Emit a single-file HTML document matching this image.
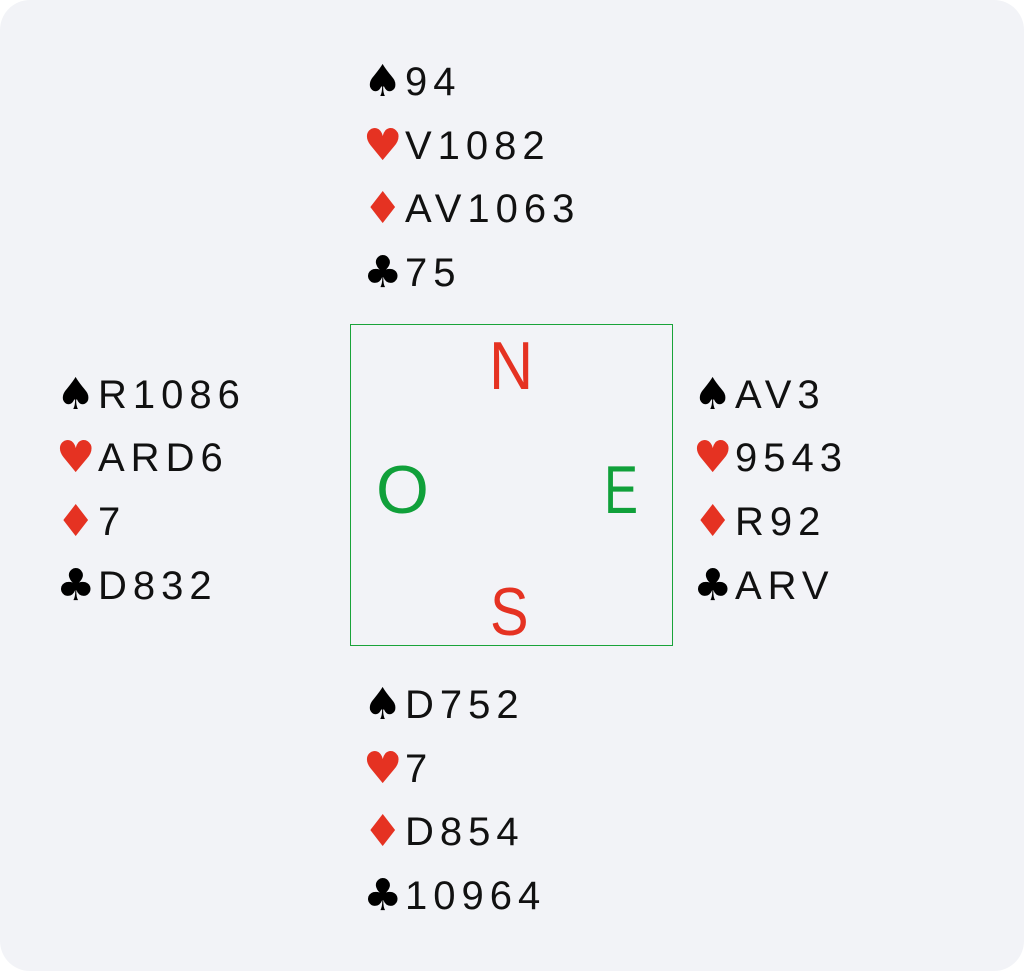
<!DOCTYPE html>
<html><head><style>
html,body{margin:0;padding:0;background:#fff;}
#bg{position:absolute;left:0;top:0;width:1024px;height:971px;background:#f2f3f7;border-radius:30px;overflow:hidden;font-family:"Liberation Sans",sans-serif;}
.r{position:absolute;height:40px;font-size:40px;line-height:40px;letter-spacing:6px;color:#111;white-space:nowrap;}
.s{position:absolute;left:-3px;top:-2px;font-family:"DejaVu Sans",sans-serif;font-size:44px;line-height:44px;letter-spacing:0;}
.k{color:#000}.h{color:#e53222}
.t{position:absolute;}
.L{position:absolute;font-size:68px;line-height:68px;}
#box{position:absolute;left:350px;top:324px;width:321px;height:320px;border:1px solid #1aa33a;}
</style></head><body><div id="bg">
<div id="box"></div>
<div class="L" style="left:489px;top:332px;color:#e53222;transform:scaleX(0.9);transform-origin:left">N</div>
<div class="L" style="left:376px;top:456px;color:#10a03a">O</div>
<div class="L" style="left:604px;top:456px;color:#10a03a;transform:scaleX(0.75);transform-origin:left">E</div>
<div class="L" style="left:490px;top:578px;color:#e53222;transform:scaleX(0.85);transform-origin:left">S</div>

<!-- North -->
<div class="r" style="left:366px;top:62px"><span class="s k">♠</span><span class="t" style="left:39px">94</span></div>
<div class="r" style="left:366px;top:126px"><span class="s h">♥</span><span class="t" style="left:39px">V1082</span></div>
<div class="r" style="left:366px;top:189px"><span class="s h">♦</span><span class="t" style="left:39px">AV1063</span></div>
<div class="r" style="left:366px;top:253px"><span class="s k">♣</span><span class="t" style="left:39px">75</span></div>
<!-- West -->
<div class="r" style="left:59px;top:375px"><span class="s k">♠</span><span class="t" style="left:39px">R1086</span></div>
<div class="r" style="left:59px;top:438px"><span class="s h">♥</span><span class="t" style="left:39px">ARD6</span></div>
<div class="r" style="left:59px;top:502px"><span class="s h">♦</span><span class="t" style="left:39px">7</span></div>
<div class="r" style="left:59px;top:566px"><span class="s k">♣</span><span class="t" style="left:39px">D832</span></div>
<!-- East -->
<div class="r" style="left:696px;top:375px"><span class="s k">♠</span><span class="t" style="left:39px">AV3</span></div>
<div class="r" style="left:696px;top:438px"><span class="s h">♥</span><span class="t" style="left:39px">9543</span></div>
<div class="r" style="left:696px;top:502px"><span class="s h">♦</span><span class="t" style="left:39px">R92</span></div>
<div class="r" style="left:696px;top:566px"><span class="s k">♣</span><span class="t" style="left:39px">ARV</span></div>
<!-- South -->
<div class="r" style="left:366px;top:685px"><span class="s k">♠</span><span class="t" style="left:39px">D752</span></div>
<div class="r" style="left:366px;top:749px"><span class="s h">♥</span><span class="t" style="left:39px">7</span></div>
<div class="r" style="left:366px;top:812px"><span class="s h">♦</span><span class="t" style="left:39px">D854</span></div>
<div class="r" style="left:366px;top:876px"><span class="s k">♣</span><span class="t" style="left:39px">10964</span></div>
</div></body></html>
